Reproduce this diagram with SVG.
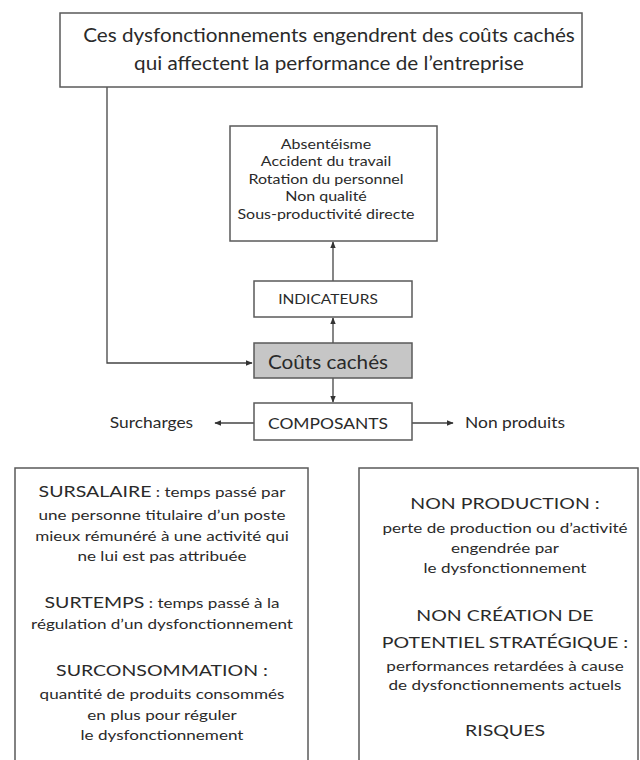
<svg xmlns="http://www.w3.org/2000/svg" width="640" height="760" viewBox="0 0 640 760">
<style>
.box{fill:#fff;stroke:#5a5a5a;stroke-width:1.5}
.gray{fill:#c6c6c6;stroke:#5a5a5a;stroke-width:1.5}
text{font-family:Lato,"Open Sans",sans-serif;fill:#2a2a2a;text-anchor:middle}
.t19{font-size:19px}
.t12{font-size:12.5px}
.t13{font-size:13.5px}
.t16{font-size:16px}
.h{font-size:16px}
.b{font-size:14px}
.lab{font-size:14.5px}
.conn{fill:none;stroke:#444;stroke-width:1.3}
</style>
<defs>
<marker id="ah" viewBox="0 0 10 10" refX="9" refY="5" markerWidth="7" markerHeight="7" orient="auto-start-reverse" markerUnits="userSpaceOnUse">
<path d="M0,1 L10,5 L0,9 z" fill="#333"/>
</marker>
</defs>
<rect width="640" height="760" fill="#fff"/>
<g id="connectors">
<path class="conn" d="M107,87 V363 H252" marker-end="url(#ah)"/>
<path class="conn" d="M333,281 V242" marker-end="url(#ah)"/>
<path class="conn" d="M333,343 V318" marker-end="url(#ah)"/>
<path class="conn" d="M333,378 V402" marker-end="url(#ah)"/>
<path class="conn" d="M254,423 H215" marker-end="url(#ah)"/>
<path class="conn" d="M412,423 H453" marker-end="url(#ah)"/>
</g>
<g id="top">
<rect class="box" x="60" y="13" width="522" height="74"/>
<g transform="translate(329,0) scale(1.09,1)">
<text class="t19" x="0" y="42.5">Ces dysfonctionnements engendrent des coûts cachés</text>
<text class="t19" x="0" y="70.5">qui affectent la performance de l’entreprise</text>
</g>
</g>
<g id="indicators-list">
<rect class="box" x="230" y="126" width="207" height="115"/>
<g transform="translate(326,0) scale(1.28,1)">
<text class="t12" x="0" y="149">Absentéisme</text>
<text class="t12" x="0" y="166.5">Accident du travail</text>
<text class="t12" x="0" y="184">Rotation du personnel</text>
<text class="t12" x="0" y="201.5">Non qualité</text>
<text class="t12" x="0" y="219">Sous-productivité directe</text>
</g>
</g>
<g id="indicateurs">
<rect class="box" x="254" y="281" width="158" height="36"/>
<text class="t13" x="0" y="304" transform="translate(328,0) scale(1.15,1)">INDICATEURS</text>
</g>
<g id="couts">
<rect class="gray" x="254" y="343" width="158" height="35"/>
<text class="t19" x="0" y="369" transform="translate(328,0) scale(1.09,1)">Coûts cachés</text>
</g>
<g id="composants">
<rect class="box" x="254" y="403" width="158" height="37"/>
<text class="t16" x="0" y="429" transform="translate(328,0) scale(1.09,1)">COMPOSANTS</text>
</g>
<g id="surcharges">
<text class="lab" x="0" y="428" transform="translate(151.5,0) scale(1.2,1)">Surcharges</text>
</g>
<g id="nonproduits">
<text class="lab" x="0" y="428" transform="translate(515,0) scale(1.2,1)">Non produits</text>
</g>
<g id="left-box">
<rect class="box" x="15" y="468" width="293" height="295"/>
<g transform="translate(162,0) scale(1.22,1)">
<text x="0" y="497"><tspan class="h">SURSALAIRE</tspan><tspan class="b"> : temps passé par</tspan></text>
<text class="b" x="0" y="520">une personne titulaire d’un poste</text>
<text class="b" x="0" y="541">mieux rémunéré à une activité qui</text>
<text class="b" x="0" y="561">ne lui est pas attribuée</text>
<text x="0" y="608"><tspan class="h">SURTEMPS</tspan><tspan class="b"> : temps passé à la</tspan></text>
<text class="b" x="0" y="629">régulation d’un dysfonctionnement</text>
<text class="h" x="0" y="676">SURCONSOMMATION :</text>
<text class="b" x="0" y="699">quantité de produits consommés</text>
<text class="b" x="0" y="720">en plus pour réguler</text>
<text class="b" x="0" y="740">le dysfonctionnement</text>
</g>
</g>
<g id="right-box">
<rect class="box" x="359" y="468" width="279" height="295"/>
<g transform="translate(505,0) scale(1.22,1)">
<text class="h" x="0" y="509">NON PRODUCTION :</text>
<text class="b" x="0" y="533">perte de production ou d’activité</text>
<text class="b" x="0" y="553">engendrée par</text>
<text class="b" x="0" y="573">le dysfonctionnement</text>
<text class="h" x="0" y="621">NON CRÉATION DE</text>
<text class="h" x="0" y="648">POTENTIEL STRATÉGIQUE :</text>
<text class="b" x="0" y="671">performances retardées à cause</text>
<text class="b" x="0" y="690">de dysfonctionnements actuels</text>
<text class="h" x="0" y="736">RISQUES</text>
</g>
</g>
</svg>
